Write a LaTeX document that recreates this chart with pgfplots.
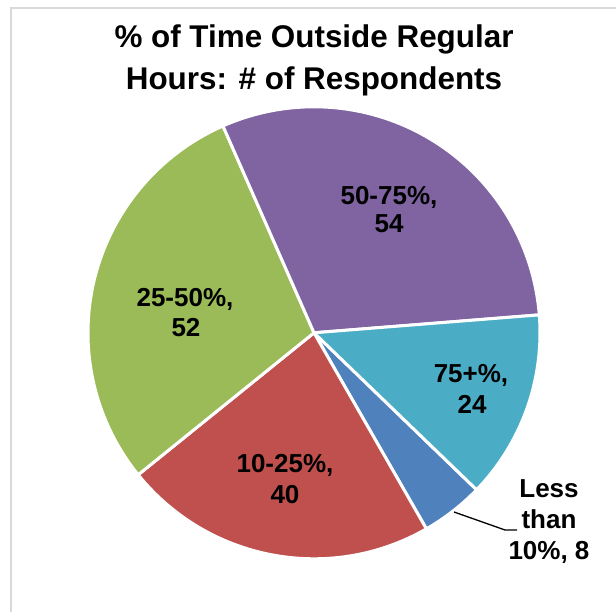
\documentclass[border=0pt]{standalone}
\usepackage{pgfplots}
\usepackage{pgfplotstable}
\pgfplotsset{compat=1.18}
\usepackage{fontspec}
\setmainfont{Liberation Sans}

\definecolor{cLess}{HTML}{4F81BD}
\definecolor{cTen}{HTML}{C0504D}
\definecolor{cTwentyFive}{HTML}{9BBB59}
\definecolor{cFifty}{HTML}{8064A2}
\definecolor{cSeventyFive}{HTML}{4BACC6}
\definecolor{frame}{HTML}{D9D9D9}

\pgfplotstableread{
label value
Less 8
10-25 40
25-50 52
50-75 54
75+ 24
}\piedata

\begin{document}
\begin{tikzpicture}
\path[use as bounding box] (0,0) rectangle (616pt,612pt);
\pgfplotstablegetelem{0}{value}\of\piedata\let\va\pgfplotsretval
\pgfplotstablegetelem{1}{value}\of\piedata\let\vb\pgfplotsretval
\pgfplotstablegetelem{2}{value}\of\piedata\let\vc\pgfplotsretval
\pgfplotstablegetelem{3}{value}\of\piedata\let\vd\pgfplotsretval
\pgfplotstablegetelem{4}{value}\of\piedata\let\ve\pgfplotsretval
\pgfmathsetmacro\total{\va+\vb+\vc+\vd+\ve}
\pgfmathsetmacro\aA{-44}
\pgfmathsetmacro\aB{\aA-\va/\total*360}
\pgfmathsetmacro\aC{\aB-\vb/\total*360}
\pgfmathsetmacro\aD{\aC-\vc/\total*360}
\pgfmathsetmacro\aE{\aD-\vd/\total*360}
\pgfmathsetmacro\aF{\aE-\ve/\total*360}
\begin{axis}[x=1pt, y=1pt, xmin=0, xmax=616, ymin=0, ymax=612,
  hide axis, clip=false, anchor=origin, at={(0,0)}]
% frame
\draw[frame, line width=2pt] (axis cs:11,0) -- (axis cs:11,603.5) -- (axis cs:616,603.5);
% slices
\fill[cLess, draw=white, line width=3pt, line join=round] (axis cs:314,279.2) -- ++(\aA:226pt) arc[start angle=\aA, end angle=\aB, radius=226pt] -- cycle;
\fill[cTen, draw=white, line width=3pt, line join=round] (axis cs:314,279.2) -- ++(\aB:226pt) arc[start angle=\aB, end angle=\aC, radius=226pt] -- cycle;
\fill[cTwentyFive, draw=white, line width=3pt, line join=round] (axis cs:314,279.2) -- ++(\aC:226pt) arc[start angle=\aC, end angle=\aD, radius=226pt] -- cycle;
\fill[cFifty, draw=white, line width=3pt, line join=round] (axis cs:314,279.2) -- ++(\aD:226pt) arc[start angle=\aD, end angle=\aE, radius=226pt] -- cycle;
\fill[cSeventyFive, draw=white, line width=3pt, line join=round] (axis cs:314,279.2) -- ++(\aE:226pt) arc[start angle=\aE, end angle=\aF, radius=226pt] -- cycle;
% title
\node[anchor=base, inner sep=0pt, font=\fontsize{31.4}{38}\selectfont\bfseries] at (axis cs:314,564) {\% of Time Outside Regular};
\node[anchor=base, inner sep=0pt, font=\fontsize{31.4}{38}\selectfont\bfseries] at (axis cs:314,522) {Hours: \# of Respondents};
% labels
\tikzset{lab/.style={anchor=base, inner sep=0pt, font=\fontsize{26}{30}\selectfont\bfseries}}
\node[lab] at (axis cs:389,407) {50-75\%,};
\node[lab] at (axis cs:389,379) {54};
\node[lab] at (axis cs:185,305) {25-50\%,};
\node[lab] at (axis cs:186,275) {52};
\node[lab] at (axis cs:471,229) {75+\%,};
\node[lab] at (axis cs:472,198) {24};
\node[lab] at (axis cs:285,139) {10-25\%,};
\node[lab] at (axis cs:285,108) {40};
\node[lab] at (axis cs:549,114) {Less};
\node[lab] at (axis cs:549,83) {than};
\node[lab] at (axis cs:549,52) {10\%, 8};
\draw[black, line width=1.3pt] (axis cs:454,100) -- (axis cs:505,82) -- (axis cs:517,82);
\end{axis}
\end{tikzpicture}
\end{document}
